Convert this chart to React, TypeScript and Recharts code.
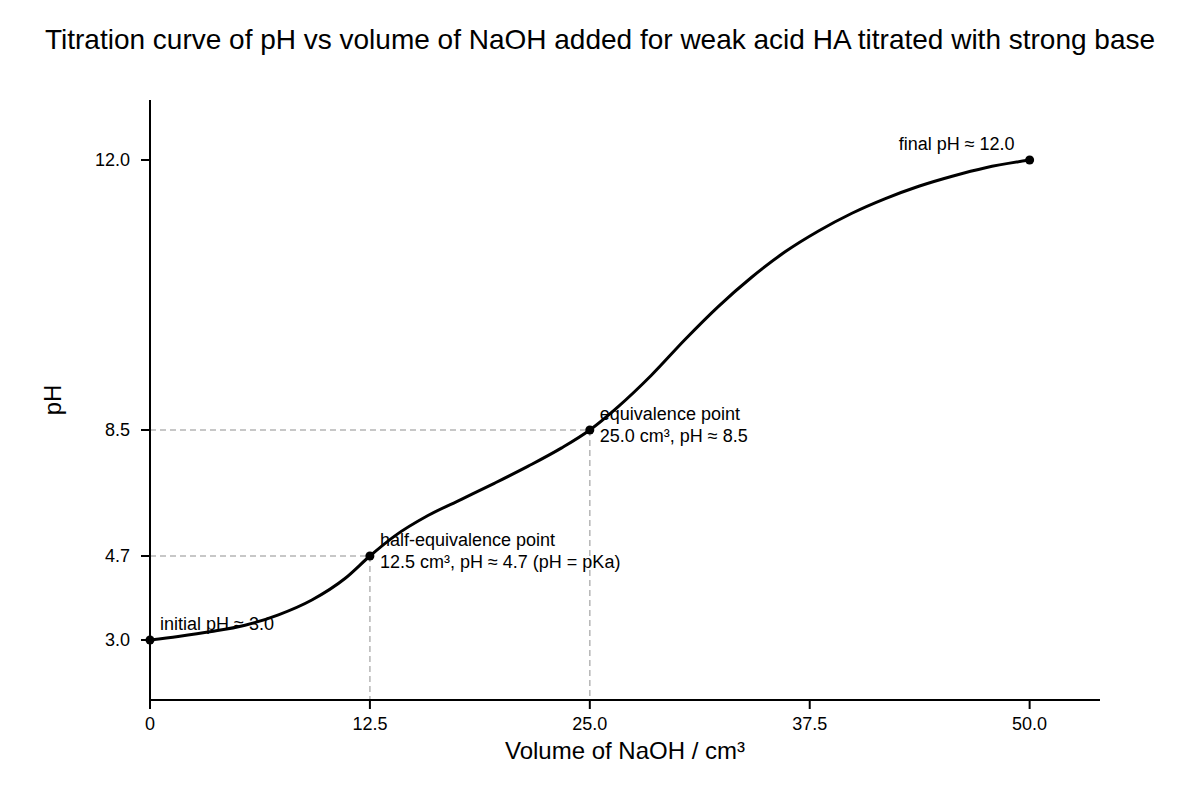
import React from 'react';
import { LineChart, Line, XAxis, YAxis, ReferenceLine, ReferenceDot } from 'recharts';

// ---- Data ----
const VOLUME_CM3 = [0, 1.6, 3.5, 5.4, 7.3, 9.2, 11.1, 12.5, 13.9, 15.8, 17.7, 19.6, 21.5, 23.4, 25.0, 26.6, 28.5, 30.4, 32.3, 34.2, 36.1, 38.0, 39.9, 41.8, 43.7, 45.6, 47.5, 50.0];
const PH_VALUES = [3.0, 3.07, 3.17, 3.3, 3.51, 3.81, 4.25, 4.7, 5.3, 5.92, 6.41, 6.9, 7.41, 7.96, 8.5, 8.8, 9.21, 9.67, 10.1, 10.48, 10.81, 11.08, 11.31, 11.5, 11.66, 11.79, 11.9, 12.0];

const KEY_VOLUME = [0, 12.5, 25.0, 50.0];
const KEY_PH = [3.0, 4.7, 8.5, 12.0];
const KEY_TEXT = [
  ['initial pH ≈ 3.0'],
  ['half-equivalence point', '12.5 cm³, pH ≈ 4.7 (pH = pKa)'],
  ['equivalence point', '25.0 cm³, pH ≈ 8.5'],
  ['final pH ≈ 12.0'],
];

const GUIDE_VOLUME = [12.5, 25.0];
const GUIDE_PH = [4.7, 8.5];

const X_TICKS = [0, 12.5, 25, 37.5, 50];
const X_TICK_LABELS = ['0', '12.5', '25.0', '37.5', '50.0'];
const Y_TICKS = [3.0, 4.7, 8.5, 12.0];
const Y_TICK_LABELS = ['3.0', '4.7', '8.5', '12.0'];

// ---- Axis scale configuration (the pH axis is piecewise linear) ----
const Y_SCALE_STOPS = [3.0, 4.7, 8.5, 12.0];
const Y_SCALE_FRACTIONS = [0.1, 0.24, 0.45, 0.9];
const X_DOMAIN: [number, number] = [0, 54];

const FONT = '"Liberation Sans", Arial, Helvetica, sans-serif';

function fracOf(v: number): number {
  const s = Y_SCALE_STOPS;
  const f = Y_SCALE_FRACTIONS;
  let i = 0;
  while (i < s.length - 2 && v > s[i + 1]) i++;
  return f[i] + ((v - s[i]) / (s[i + 1] - s[i])) * (f[i + 1] - f[i]);
}

function valueAt(t: number): number {
  const s = Y_SCALE_STOPS;
  const f = Y_SCALE_FRACTIONS;
  let i = 0;
  while (i < f.length - 2 && t > f[i + 1]) i++;
  return s[i] + ((t - f[i]) / (f[i + 1] - f[i])) * (s[i + 1] - s[i]);
}

const Y_DOMAIN: [number, number] = [valueAt(0), valueAt(1)];

function makePiecewiseScale(): any {
  let dom: any[] = Y_DOMAIN.slice();
  let rng: number[] = [0, 1];
  const scale: any = (v: number) => rng[0] + fracOf(Number(v)) * (rng[1] - rng[0]);
  scale.domain = (d?: any[]) => {
    if (d === undefined) return dom.slice();
    dom = d.slice();
    return scale;
  };
  scale.range = (r?: number[]) => {
    if (r === undefined) return rng.slice();
    rng = r.map(Number);
    return scale;
  };
  scale.copy = () => makePiecewiseScale().domain(dom).range(rng);
  scale.ticks = () => Y_SCALE_STOPS.slice();
  scale.tickFormat = () => (v: number) => String(v);
  scale.invert = (p: number) => valueAt((p - rng[0]) / (rng[1] - rng[0]));
  scale.clamp = (c?: boolean) => (c === undefined ? false : scale);
  scale.nice = () => scale;
  scale.unknown = (u?: any) => (u === undefined ? undefined : scale);
  return scale;
}

const phScale = makePiecewiseScale();

const chartData = VOLUME_CM3.map((v, i) => ({ volume: v, ph: PH_VALUES[i] }));

function makeDotShape(lines: string[], anchorEnd: boolean) {
  return (props: any) => {
    const cx = Number(props.cx);
    const cy = Number(props.cy);
    const tx = anchorEnd ? cx - 15 : cx + 10;
    return (
      <g>
        <circle cx={cx} cy={cy} r={4.5} fill="#000" stroke="none" />
        {lines.map((line, i) => (
          <text
            key={i}
            x={tx}
            y={i === 0 ? cy - 10 : cy + 12}
            textAnchor={anchorEnd ? 'end' : 'start'}
            fontSize={18}
            fontFamily={FONT}
            fill="#000"
          >
            {line}
          </text>
        ))}
      </g>
    );
  };
}

const XLabel = (props: any) => {
  const vb = props.viewBox || { x: 150, y: 700, width: 950, height: 60 };
  return (
    <text x={vb.x + vb.width / 2} y={759} textAnchor="middle" fontSize={24} fontFamily={FONT} fill="#000">
      Volume of NaOH / cm³
    </text>
  );
};

const YLabel = (props: any) => {
  const vb = props.viewBox || { x: 70, y: 100, width: 80, height: 600 };
  const cy = vb.y + vb.height / 2;
  return (
    <text x={61} y={cy} transform={`rotate(-90 61 ${cy})`} textAnchor="middle" fontSize={24} fontFamily={FONT} fill="#000">
      pH
    </text>
  );
};

export default function App() {
  return (
    <div style={{ position: 'absolute', left: 0, top: 0, width: 1200, height: 800, background: '#fff', fontFamily: FONT }}>
      <div
        style={{
          position: 'absolute',
          left: 0,
          top: 24,
          width: 1200,
          textAlign: 'center',
          fontSize: 28,
          lineHeight: '32px',
          color: '#000',
          fontFamily: FONT,
        }}
      >
        Titration curve of pH vs volume of NaOH added for weak acid HA titrated with strong base
      </div>
      <LineChart width={1200} height={800} data={chartData} margin={{ top: 100, right: 100, bottom: 40, left: 70 }}>
        <XAxis
          dataKey="volume"
          type="number"
          domain={X_DOMAIN}
          allowDataOverflow
          ticks={X_TICKS}
          tickFormatter={(v: number) => X_TICK_LABELS[X_TICKS.indexOf(v)] ?? String(v)}
          height={60}
          tickSize={9}
          tickMargin={8}
          axisLine={{ stroke: '#000', strokeWidth: 2 }}
          tickLine={{ stroke: '#000', strokeWidth: 2 }}
          tick={{ fill: '#000', fontSize: 18, fontFamily: FONT }}
          label={{ content: XLabel }}
        />
        <YAxis
          type="number"
          scale={phScale}
          domain={Y_DOMAIN}
          allowDataOverflow
          ticks={Y_TICKS}
          tickFormatter={(v: number) => Y_TICK_LABELS[Y_TICKS.indexOf(v)] ?? String(v)}
          width={80}
          tickSize={9}
          tickMargin={11}
          axisLine={{ stroke: '#000', strokeWidth: 2 }}
          tickLine={{ stroke: '#000', strokeWidth: 2 }}
          tick={{ fill: '#000', fontSize: 18, fontFamily: FONT }}
          label={{ content: YLabel }}
        />
        {GUIDE_VOLUME.map((v, i) => (
          <ReferenceLine
            key={`h${i}`}
            segment={[{ x: 0, y: GUIDE_PH[i] }, { x: v, y: GUIDE_PH[i] }]}
            stroke="#b5b5b5"
            strokeWidth={1.5}
            strokeDasharray="6 4"
            ifOverflow="visible"
          />
        ))}
        {GUIDE_VOLUME.map((v, i) => (
          <ReferenceLine
            key={`v${i}`}
            segment={[{ x: v, y: GUIDE_PH[i] }, { x: v, y: Y_DOMAIN[0] }]}
            stroke="#b5b5b5"
            strokeWidth={1.5}
            strokeDasharray="6 4"
            ifOverflow="visible"
          />
        ))}
        <Line
          dataKey="ph"
          type="monotone"
          stroke="#000"
          strokeWidth={3}
          dot={false}
          activeDot={false}
          isAnimationActive={false}
        />
        {KEY_VOLUME.map((v, i) => (
          <ReferenceDot
            key={`d${i}`}
            x={v}
            y={KEY_PH[i]}
            r={4.5}
            ifOverflow="visible"
            shape={makeDotShape(KEY_TEXT[i], i === KEY_VOLUME.length - 1)}
          />
        ))}
      </LineChart>
    </div>
  );
}
